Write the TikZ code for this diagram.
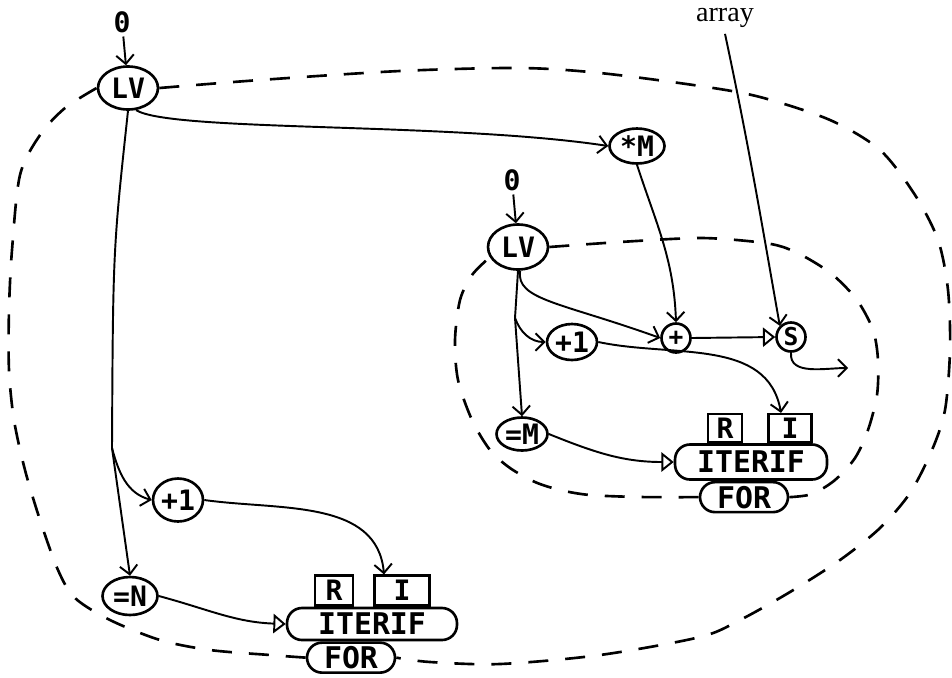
\documentclass[tikz,border=0pt]{standalone}
\usepackage{fontspec}
\usepackage{tikz}
\usetikzlibrary{shapes.geometric,arrows.meta,positioning}
\newfontfamily\lblfont{DejaVu Sans Mono}
\newfontfamily\annfont{Liberation Serif}

\begin{document}
\begin{tikzpicture}[x=0.02cm,y=-0.02cm,
  oval/.style={ellipse,draw,line width=1.5pt,fill=white,inner sep=0pt,
               font=\lblfont\bfseries\fontsize{16}{16}\selectfont},
  circ/.style={circle,draw,line width=1.5pt,fill=white,inner sep=0pt,
               minimum size=0.58cm,font=\lblfont\bfseries\fontsize{14}{14}\selectfont},
  reg/.style={rectangle,draw,line width=1.3pt,fill=white,inner sep=0pt,
              minimum height=0.6cm,font=\lblfont\bfseries\fontsize{16}{16}\selectfont},
  bar/.style={rectangle,rounded corners=0.3cm,draw,line width=1.5pt,fill=white,
              inner sep=0pt,font=\lblfont\bfseries\fontsize{17}{17}\selectfont},
  lbl/.style={font=\lblfont\bfseries\fontsize{16}{16}\selectfont,inner sep=2pt},
  arr/.style={-{Straight Barb[length=5pt,width=10pt]},line width=1.1pt},
  tri/.style={-{Triangle[open,length=7pt,width=11pt]},line width=1.1pt},
  loopline/.style={line width=1.5pt,dash pattern=on 0.4cm off 0.34cm}]
\useasboundingbox (0,0) rectangle (952,677);
% outer loop
\node[lbl] (zero1) at (122,22) {0};
\node[oval,minimum width=1.2cm,minimum height=0.86cm] (lv1) at (128,88) {LV};
\node[oval,minimum width=1.1cm,minimum height=0.7cm] (mulM) at (637,146) {*M};
\node[oval,minimum width=1.0cm,minimum height=0.86cm] (inc1) at (178,500) {+1};
\node[oval,minimum width=1.1cm,minimum height=0.76cm] (eqN) at (130,596) {=N};
\node[bar,minimum width=3.4cm,minimum height=0.64cm] (iterif1) at (372,624) {ITERIF};
\node[bar,minimum width=1.76cm,minimum height=0.6cm,below=0pt of iterif1.south,
      xshift=-0.42cm] (for1) {FOR};
\node[reg,minimum width=0.76cm,above=0pt of iterif1.north,xshift=-0.76cm] (r1) {R};
\node[reg,minimum width=1.1cm,above=0pt of iterif1.north,xshift=0.6cm] (i1) {I};
% inner loop
\node[lbl] (zero2) at (512,180) {0};
\node[oval,minimum width=1.2cm,minimum height=0.9cm] (lv2) at (518,247) {LV};
\node[circ] (add) at (676,338) {+};
\node[circ] (sel) at (791,337) {S};
\node[font=\annfont\fontsize{16}{16}\selectfont] (array) at (725,18) {array};
\coordinate (res) at (848,368);
\node[oval,minimum width=1.0cm,minimum height=0.72cm] (inc2) at (572,342) {+1};
\node[oval,minimum width=1.02cm,minimum height=0.66cm] (eqM) at (522,434) {=M};
\node[bar,minimum width=3.04cm,minimum height=0.7cm] (iterif2) at (751,462) {ITERIF};
\node[bar,minimum width=1.76cm,minimum height=0.6cm,below=0pt of iterif2.south,
      xshift=-0.14cm] (for2) {FOR};
\node[reg,minimum width=0.68cm,minimum height=0.56cm,above=0pt of iterif2.north,
      xshift=-0.52cm] (r2) {R};
\node[reg,minimum width=0.86cm,minimum height=0.56cm,above=0pt of iterif2.north,
      xshift=0.78cm] (i2) {I};

% dashed loop boundaries
\draw[loopline] plot[smooth] coordinates {(lv1.east) (260,80) (400,71) (520,68)
  (600,73) (700,86) (760,97) (830,120) (880,150) (915,195) (938,240) (948,290)
  (950,350) (945,410) (932,450) (910,493) (880,528) (840,560) (790,592) (740,620)
  (700,637) (600,655) (500,664) (430,662) (for1.east)};
\draw[loopline] plot[smooth] coordinates {(for1.west) (270,655) (210,650) (160,640)
  (110,620) (75,598) (58,570) (40,520) (25,470) (14,420) (9,370) (9,310) (12,250)
  (20,175) (40,135) (65,108) (lv1.west)};
\draw[loopline] plot[smooth] coordinates {(lv2.east) (620,242) (700,238) (757,242)
  (783,247) (807,258) (833,275) (857,300) (873,330) (878,360) (877,395) (868,430)
  (855,458) (835,480) (812,494) (for2.east)};
\draw[loopline] plot[smooth] coordinates {(for2.west) (640,497) (590,495) (560,490)
  (535,482) (510,468) (490,450) (472,420) (458,380) (455,340) (460,300) (472,275)
  (lv2.200)};

% connectors
\coordinate (split1) at (112,448);
\coordinate (split2) at (515,318);
\draw[arr] (zero1) -- (lv1);
\draw[arr] (lv1.south) .. controls (113,250) .. (split1) -- (eqN.north);
\draw[arr] (split1) to[out=-75,in=165] (inc1.west);
\draw[arr] (lv1.-70) .. controls (170,132) and (450,122) .. (mulM.west);
\draw[arr] (inc1.east) to[out=-8,in=95] ([xshift=-0.36cm]i1.north);
\draw[tri] (eqN.east) to[out=-15,in=178] (iterif1.west);
\draw[arr] (zero2) -- (lv2);
\draw[arr] (lv2.south) -- (split2) -- (eqM.north);
\draw[arr] (lv2.-85) .. controls (516,300) and (560,302) .. (add.west);
\draw[arr] (split2) to[out=-70,in=180] (inc2.west);
\draw[arr] (mulM.south) to[out=-72,in=92] (add.north);
\draw[arr] (array.south) to[out=-78,in=100] (sel.north west);
\draw[tri] (add.east) -- (sel.west);
\draw[arr] (sel.south) to[out=-95,in=180] (res);
\draw[arr] (inc2.east) to[out=-12,in=100] ([xshift=-0.18cm]i2.north);
\draw[tri] (eqM.east) to[out=-22,in=180] (iterif2.west);
\end{tikzpicture}
\end{document}
